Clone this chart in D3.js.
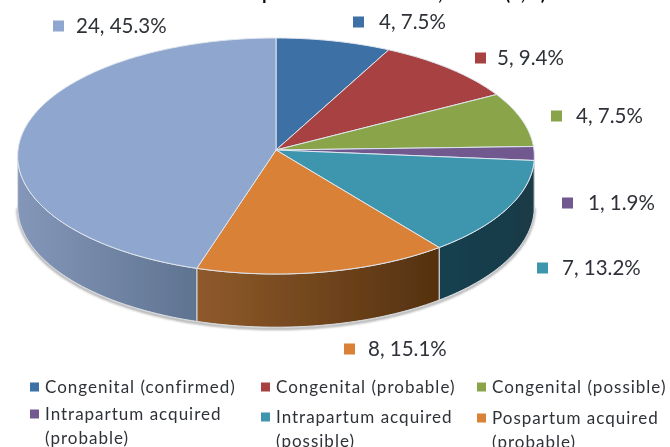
<!DOCTYPE html>
<html>
<head>
<meta charset="utf-8">
<script src="https://cdn.jsdelivr.net/npm/d3@7"></script>
<style>
  html, body { margin: 0; padding: 0; background: #fff; }
  svg { display: block; }
  text { font-family: Lato, "Open Sans", sans-serif; fill: #2e3238; }
</style>
</head>
<body>
<div id="container"></div>
<script>
'use strict';

// values
const counts = [4, 5, 4, 1, 7, 8, 24];
const percents = ["7.5", "9.4", "7.5", "1.9", "13.2", "15.1", "45.3"];
const legendNames = [
  ["Congenital (confirmed)"],
  ["Congenital (probable)"],
  ["Congenital (possible)"],
  ["Intrapartum acquired", "(probable)"],
  ["Intrapartum acquired", "(possible)"],
  ["Pospartum acquired", "(probable)"]
];
const titleBits = ["p", ",", "(n,%)"];

const topColors = ["#3c6fa5", "#a84342", "#8aa54a", "#71588f", "#3d96ae", "#da8137", "#8fa6ce"];
const sideFrom = ["#2c5278", "#7a3130", "#657936", "#523f68", "#17404f", "#8f5a2b", "#8497b9"];
const sideTo = ["#2c5278", "#7a3130", "#657936", "#523f68", "#1a3a46", "#54310f", "#5f7391"];

const width = 670,
      height = 447,
      center = {x: 276, y: 150},
      rx = 258,
      ry = 117.7,
      depth = 50.5,
      tilt = 0.0508;

// where the floating labels sit: square x, text x, middle y
const labelSpots = [
  [353, 379, 22], [475, 497, 58], [551, 576, 116], [562, 588, 203],
  [537, 562, 268], [344, 368, 349], [53, 76, 26]
];
const legendSpots = [
  [30, 45, 387, 22], [261, 276, 387, 22], [477, 492, 387, 22],
  [30, 45, 414, 24], [261, 276, 417, 24], [477, 492, 418, 24]
];
const titleSpots = [262, 438, 505];

const svg = d3.select("#container")
  .append("svg")
  .attr("width", width)
  .attr("height", height);

const defs = svg.append("defs");
defs.append("filter").attr("id", "soft")
  .append("feGaussianBlur").attr("stdDeviation", 0.45);
defs.append("filter").attr("id", "shadow")
  .attr("x", "-5%").attr("y", "-5%").attr("width", "110%").attr("height", "115%")
  .append("feGaussianBlur").attr("stdDeviation", 1.2);

const arcs = d3.pie().sort(null).value(d => d)(counts);

// circle on the table -> screen, with a bit of perspective
function project(angle, drop) {
  const w = 1 + tilt * Math.cos(angle);
  return [
    center.x + rx * Math.sin(angle) / w,
    center.y + (-ry * Math.cos(angle) + drop) / w
  ];
}

function rim(a0, a1, drop) {
  const n = Math.max(2, Math.ceil((a1 - a0) / 0.02));
  return d3.range(n + 1).map(i => project(a0 + (a1 - a0) * i / n, drop));
}

const line = d3.line();
const hiddenEdge = Math.acos(-tilt);   // where the outline turns
const frontStart = hiddenEdge;
const frontEnd = 2 * Math.PI - hiddenEdge;

const pie = svg.append("g").attr("filter", "url(#soft)");

// grey shadow hugging the lower edge
pie.append("path")
  .attr("d", line(rim(frontStart, frontEnd, depth + 1.5)))
  .attr("fill", "none")
  .attr("stroke", "#a9a9a9")
  .attr("stroke-width", 2.5)
  .attr("filter", "url(#shadow)");

const sides = arcs
  .map((d, i) => ({
    i,
    a0: Math.max(d.startAngle, frontStart),
    a1: Math.min(d.endAngle, frontEnd)
  }))
  .filter(d => d.a1 > d.a0);

sides.forEach(d => {
  const top = rim(d.a0, d.a1, 0);
  const bottom = rim(d.a0, d.a1, depth).reverse();
  const xs = d3.extent(top.concat(bottom), p => p[0]);
  const grad = defs.append("linearGradient")
    .attr("id", "side" + d.i)
    .attr("gradientUnits", "userSpaceOnUse")
    .attr("x1", xs[0]).attr("x2", xs[1])
    .attr("y1", 0).attr("y2", 0);
  grad.append("stop").attr("offset", 0).attr("stop-color", sideFrom[d.i]);
  grad.append("stop").attr("offset", 1).attr("stop-color", sideTo[d.i]);

  pie.append("path")
    .attr("d", line(top.concat(bottom)) + "Z")
    .attr("fill", `url(#side${d.i})`)
    .attr("stroke", "#d8dde3")
    .attr("stroke-width", 1);
});

pie.selectAll(".slice")
  .data(arcs)
  .join("path")
  .attr("class", "slice")
  .attr("d", d => line([[center.x, center.y], ...rim(d.startAngle, d.endAngle, 0)]) + "Z")
  .attr("fill", (d, i) => topColors[i])
  .attr("stroke", "#dfe6ee")
  .attr("stroke-width", 1);

const texts = svg.append("g").attr("filter", "url(#soft)");

// only the underside of the title survives the crop
texts.selectAll(".title-bit")
  .data(titleBits)
  .join("text")
  .attr("class", "title-bit")
  .attr("x", (d, i) => titleSpots[i])
  .attr("y", 0)
  .attr("font-size", 19)
  .attr("font-weight", 700)
  .style("fill", "#111")
  .text(d => d);

// floating data labels
const labels = texts.selectAll(".data-label")
  .data(counts)
  .join("g")
  .attr("class", "data-label");

labels.append("rect")
  .attr("x", (d, i) => labelSpots[i][0])
  .attr("y", (d, i) => labelSpots[i][2] - 5.5)
  .attr("width", 11)
  .attr("height", 11)
  .attr("fill", (d, i) => topColors[i]);

labels.append("text")
  .attr("x", (d, i) => labelSpots[i][1])
  .attr("y", (d, i) => labelSpots[i][2])
  .attr("dy", "0.35em")
  .attr("font-size", 20.5)
  .text((d, i) => `${d}, ${percents[i]}%`);

// legend
const legend = texts.selectAll(".legend-item")
  .data(legendNames)
  .join("g")
  .attr("class", "legend-item");

legend.append("rect")
  .attr("x", (d, i) => legendSpots[i][0])
  .attr("y", (d, i) => legendSpots[i][2] - 4.5)
  .attr("width", 9)
  .attr("height", 9)
  .attr("fill", (d, i) => topColors[i]);

legend.each(function(lines, i) {
  const spot = legendSpots[i];
  d3.select(this).selectAll("text")
    .data(lines)
    .join("text")
    .attr("x", spot[1])
    .attr("y", (d, j) => spot[2] + j * spot[3])
    .attr("dy", "0.35em")
    .attr("font-size", 17)
    .attr("letter-spacing", 1)
    .text(d => d);
});
</script>
</body>
</html>
